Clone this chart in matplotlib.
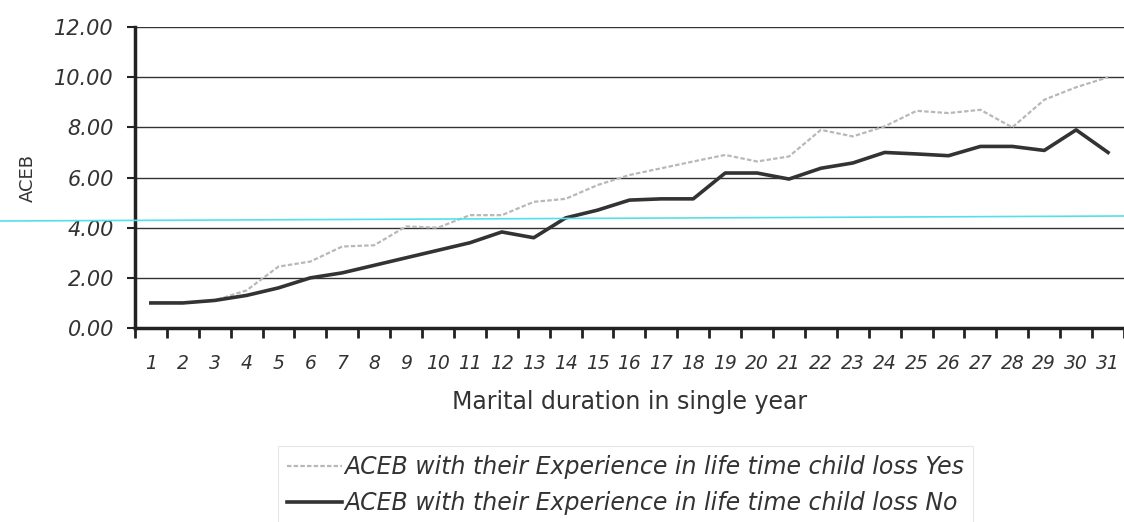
import matplotlib.pyplot as plt
from matplotlib.lines import Line2D

plt.rcParams['font.family'] = ['DejaVu Sans']

years = list(range(1, 32))
aceb_yes = [1.0, 1.0, 1.1, 1.5, 2.45, 2.65, 3.25, 3.3, 4.05, 4.0,
            4.5, 4.5, 5.03, 5.15, 5.7, 6.1, 6.37, 6.64, 6.9, 6.64,
            6.84, 7.9, 7.64, 8.04, 8.66, 8.57, 8.7, 8.0, 9.1, 9.6, 10.0]
aceb_no = [1.0, 1.0, 1.1, 1.3, 1.6, 2.0, 2.2, 2.5, 2.8, 3.1,
           3.4, 3.83, 3.6, 4.39, 4.7, 5.1, 5.15, 5.15, 6.18, 6.18,
           5.94, 6.37, 6.58, 7.0, 6.94, 6.87, 7.24, 7.24, 7.08, 7.9, 7.0]
y_ticks = [0, 2, 4, 6, 8, 10, 12]

fig = plt.figure(figsize=(11.24, 5.22), dpi=100)
ax = fig.add_axes([0.120, 0.3716, 0.88, 0.5766])

ax.plot(years, aceb_yes, color='#b8b8b8', linewidth=1.6, linestyle=(0, (2, 1)),
        label='ACEB with their Experience in life time child loss Yes')
ax.plot(years, aceb_no, color='#333333', linewidth=2.6,
        label='ACEB with their Experience in life time child loss No')

ax.set_xlim(0.5, 31.5)
ax.set_ylim(0, 12)
ax.set_yticks(y_ticks)
ax.set_yticklabels(['%.2f' % v for v in y_ticks], fontsize=15, style='italic', color='#333333')
ax.set_xticks(years)
ax.set_xticklabels([str(v) for v in years], fontsize=13.5, style='italic', color='#333333')
ax.set_xticks([v + 0.5 for v in range(0, 32)], minor=True)
ax.tick_params(axis='x', which='major', length=0, pad=19)
ax.tick_params(axis='x', which='minor', length=7, width=2, color='#222222')
ax.tick_params(axis='y', length=6, width=1.5, pad=9, color='#222222')

ax.grid(axis='y', color='#333333', linewidth=1)
for side in ('top', 'right'):
    ax.spines[side].set_visible(False)
ax.spines['left'].set_linewidth(2.5)
ax.spines['bottom'].set_linewidth(2.5)
ax.spines['left'].set_color('#222222')
ax.spines['bottom'].set_color('#222222')

ax.set_ylabel('ACEB', fontsize=13, color='#333333', labelpad=13)
ax.set_xlabel('Marital duration in single year', fontsize=17, color='#333333', labelpad=12)

handles, labels = ax.get_legend_handles_labels()
leg = fig.legend(handles, labels, loc='upper left', bbox_to_anchor=(278 / 1124, 1 - 446 / 522),
                 frameon=True, fancybox=False, handlelength=2.3, handletextpad=0.1,
                 prop={'size': 17, 'style': 'italic'}, labelspacing=0.5, borderpad=0.4,
                 borderaxespad=0)
leg.get_frame().set_edgecolor('#e0e0e0')
leg.get_frame().set_linewidth(0.8)
for t in leg.get_texts():
    t.set_color('#333333')

# thin cyan line running across the page
fig.add_artist(Line2D([0, 1], [1 - 221 / 522, 1 - 216 / 522], color='#55e0e8', linewidth=1.2))

fig.savefig('out.png', dpi=100)
